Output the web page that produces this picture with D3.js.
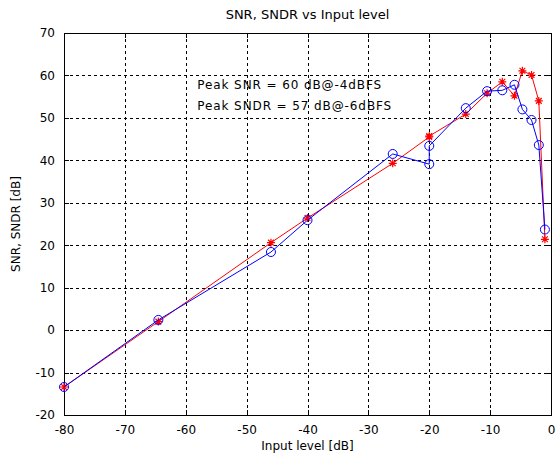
<!DOCTYPE html>
<html><head><meta charset="utf-8">
<script src="https://cdn.jsdelivr.net/npm/d3@7"></script>
<style>
body{margin:0;background:#fff}
text{font-family:"DejaVu Sans",sans-serif;fill:#000}
</style>
</head><body>
<svg id="chart" width="557" height="454"></svg>
<script>
// ---- data ----
const inputLevel = [-80, -64.5, -46, -40, -26, -20, -20, -14, -10.5, -8, -6, -4.7, -3.2, -2, -1];
const snr  = [-13.4, 2.0, 20.6, 26.4, 39.3, 45.5, 45.7, 50.9, 55.8, 58.5, 55.2, 61.1, 60.1, 54.0, 21.4];
const sndr = [-13.4, 2.4, 18.4, 25.9, 41.5, 39.1, 43.4, 52.3, 56.3, 56.5, 57.8, 52.0, 49.5, 43.6, 23.7];
const xTicks = [-80, -70, -60, -50, -40, -30, -20, -10, 0];
const yTicks = [-20, -10, 0, 10, 20, 30, 40, 50, 60, 70];
const titleText = "SNR, SNDR vs Input level";
const xLabel = "Input level [dB]";
const yLabel = "SNR, SNDR [dB]";
const notes = ["Peak SNR = 60 dB@-4dBFS", "Peak SNDR = 57 dB@-6dBFS"];
const notePos = [[-58.1, 56.8], [-58.1, 51.8]];

// ---- layout ----
const W = 557, H = 454;
const m = {left: 64, right: 6, top: 33, bottom: 39};
const svg = d3.select("#chart");
const x = d3.scaleLinear().domain([-80, 0]).range([m.left, W - m.right]);
const y = d3.scaleLinear().domain([-20, 70]).range([H - m.bottom, m.top]);
const x0 = x.range()[0], x1 = x.range()[1], y0 = y.range()[0], y1 = y.range()[1];
const fmt = d => String(d);

// grid
const grid = svg.append("g").attr("stroke", "#000").attr("stroke-width", 1)
  .attr("stroke-dasharray", "3,3").attr("shape-rendering", "crispEdges");
grid.selectAll("line.gx").data(xTicks.slice(1, -1)).enter().append("line")
  .attr("x1", d => Math.round(x(d)) + 0.5).attr("x2", d => Math.round(x(d)) + 0.5)
  .attr("y1", y1).attr("y2", y0);
grid.selectAll("line.gy").data(yTicks.slice(1, -1)).enter().append("line")
  .attr("y1", d => Math.round(y(d)) + 0.5).attr("y2", d => Math.round(y(d)) + 0.5)
  .attr("x1", x0).attr("x2", x1);

// axes
const ax = svg.append("g").attr("transform", `translate(0,${y0})`)
  .call(d3.axisBottom(x).tickValues(xTicks).tickSizeInner(-5).tickSizeOuter(0).tickPadding(10).tickFormat(fmt));
const ay = svg.append("g").attr("transform", `translate(${x0},0)`)
  .call(d3.axisLeft(y).tickValues(yTicks).tickSizeInner(-5).tickSizeOuter(0).tickPadding(9).tickFormat(fmt));
const axT = svg.append("g").attr("transform", `translate(0,${y1})`)
  .call(d3.axisTop(x).tickValues(xTicks).tickSizeInner(-5).tickSizeOuter(0).tickFormat(""));
const ayR = svg.append("g").attr("transform", `translate(${x1},0)`)
  .call(d3.axisRight(y).tickValues(yTicks).tickSizeInner(-5).tickSizeOuter(0).tickFormat(""));
[ax, ay, axT, ayR].forEach(g => {
  g.select(".domain").remove();
  g.selectAll("line").attr("stroke", "#000").attr("shape-rendering", "crispEdges");
  g.selectAll("text").attr("font-size", 12).attr("font-family", "DejaVu Sans").attr("fill", "#000");
});

// frame
svg.append("rect").attr("x", x0 + 0.5).attr("y", y1 + 0.5)
  .attr("width", x1 - x0).attr("height", y0 - y1)
  .attr("fill", "none").attr("stroke", "#000").attr("shape-rendering", "crispEdges");

// series
const pts = (vals) => inputLevel.map((v, i) => [v, vals[i]]);
const line = d3.line().x(d => x(d[0])).y(d => y(d[1]));

// SNR red with asterisk markers
svg.append("path").datum(pts(snr)).attr("d", line)
  .attr("fill", "none").attr("stroke", "#ff0000").attr("stroke-width", 1);
const s = 4;
const star = `M${-s},0L${s},0M0,${-s}L0,${s}M${-s*0.72},${-s*0.72}L${s*0.72},${s*0.72}M${-s*0.72},${s*0.72}L${s*0.72},${-s*0.72}`;
svg.append("g").selectAll("path").data(pts(snr)).enter().append("path")
  .attr("transform", d => `translate(${x(d[0])},${y(d[1])})`)
  .attr("d", star).attr("stroke", "#ff0000").attr("stroke-width", 1.2).attr("fill", "none");

// SNDR blue with circle markers
svg.append("path").datum(pts(sndr)).attr("d", line)
  .attr("fill", "none").attr("stroke", "#0000ff").attr("stroke-width", 1);
svg.append("g").selectAll("circle").data(pts(sndr)).enter().append("circle")
  .attr("cx", d => x(d[0])).attr("cy", d => y(d[1])).attr("r", 4.5)
  .attr("fill", "none").attr("stroke", "#0000ff").attr("stroke-width", 1);

// annotations
svg.append("g").selectAll("text").data(notes).enter().append("text")
  .attr("x", (d, i) => x(notePos[i][0])).attr("y", (d, i) => y(notePos[i][1]))
  .attr("font-size", 12).attr("letter-spacing", 0.9).text(d => d);

// title and labels
svg.append("text").attr("x", (x0 + x1) / 2).attr("y", 19).attr("text-anchor", "middle")
  .attr("font-size", 13).text(titleText);
svg.append("text").attr("x", (x0 + x1) / 2).attr("y", 450).attr("text-anchor", "middle")
  .attr("font-size", 12).text(xLabel);
svg.append("text").attr("transform", `translate(20,${(y0 + y1) / 2}) rotate(-90)`)
  .attr("text-anchor", "middle").attr("font-size", 12).text(yLabel);
</script>
</body></html>
